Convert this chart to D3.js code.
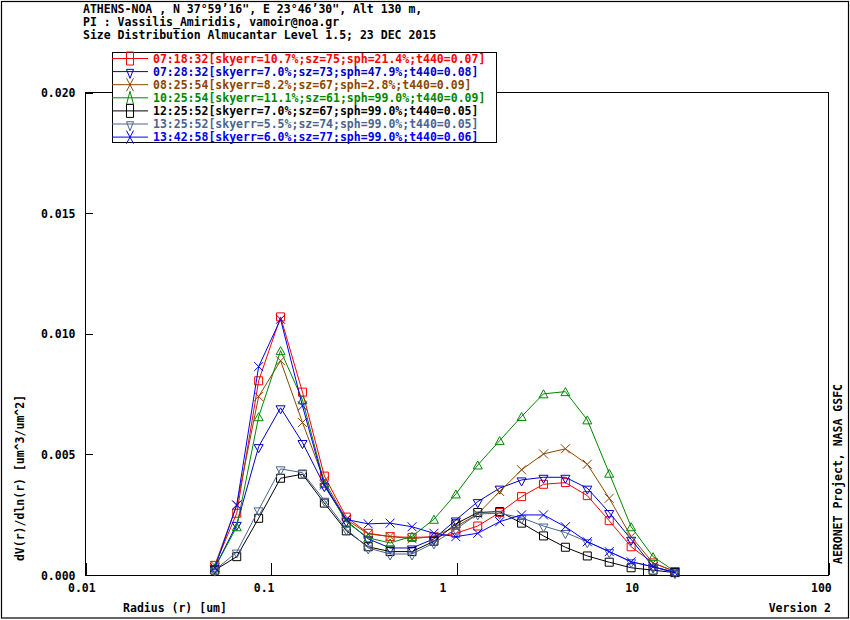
<!DOCTYPE html>
<html>
<head>
<meta charset="utf-8">
<script src="https://cdn.jsdelivr.net/npm/d3@7"></script>
<style>
  html, body { margin: 0; padding: 0; background: #fff; }
  svg { display: block; }
  text { font-family: "DejaVu Sans Mono", monospace; font-weight: bold; font-size: 11.5px; }
</style>
</head>
<body>
<svg id="chart" width="850" height="620"></svg>
<script>
// ---------------- data ----------------
const titleLines = [
  "ATHENS-NOA , N 37°59’16\", E 23°46’30\", Alt 130 m,",
  "PI : Vassilis_Amiridis, vamoir@noa.gr",
  "Size Distribution Almucantar Level 1.5; 23 DEC 2015"
];
const radius = [0.050000, 0.065604, 0.086077, 0.112939, 0.148184, 0.194429, 0.255105, 0.334716,
  0.439173, 0.576227, 0.756052, 0.991996, 1.301571, 1.707757, 2.240702, 2.939966,
  3.857452, 5.061260, 6.640745, 8.713145, 11.432287, 15.000000];
const xTicks = [0.01, 0.1, 1, 10, 100];
const xTickLabels = ["0.01", "0.1", "1", "10", "100"];
const yTicks = [0, 0.005, 0.010, 0.015, 0.020];
const yTickLabels = ["0.000", "0.005", "0.010", "0.015", "0.020"];

const seriesNames = [
  "07:18:32[skyerr=10.7%;sz=75;sph=21.4%;t440=0.07]",
  "07:28:32[skyerr=7.0%;sz=73;sph=47.9%;t440=0.08]",
  "08:25:54[skyerr=8.2%;sz=67;sph=2.8%;t440=0.09]",
  "10:25:54[skyerr=11.1%;sz=61;sph=99.0%;t440=0.09]",
  "12:25:52[skyerr=7.0%;sz=67;sph=99.0%;t440=0.05]",
  "13:25:52[skyerr=5.5%;sz=74;sph=99.0%;t440=0.05]",
  "13:42:58[skyerr=6.0%;sz=77;sph=99.0%;t440=0.06]"
];
const s0718 = [0.0004, 0.00256, 0.00805, 0.0107, 0.00758, 0.0041, 0.0024, 0.00173, 0.00159, 0.00156, 0.00158,
  0.00173, 0.00203, 0.00259, 0.00325, 0.00376, 0.00383, 0.00329, 0.00225, 0.00117, 0.0005, 0.00014];
const s0728 = [0.0003, 0.0021, 0.00532, 0.00693, 0.00549, 0.0037, 0.00225, 0.0015, 0.00112, 0.00112, 0.0015,
  0.00228, 0.00304, 0.0036, 0.00394, 0.00405, 0.00405, 0.0036, 0.00259, 0.00148, 0.00034, 0.00012];
const s0825 = [0.0004, 0.0029, 0.0074, 0.00888, 0.00632, 0.0039, 0.0023, 0.0017, 0.0016, 0.0015, 0.0016,
  0.002, 0.00253, 0.00346, 0.00436, 0.00502, 0.00523, 0.00459, 0.00318, 0.00159, 0.0005, 0.00015];
const s1025 = [0.0003, 0.002, 0.00656, 0.0093, 0.00726, 0.0038, 0.0022, 0.00154, 0.00133, 0.0016, 0.00231,
  0.00336, 0.00456, 0.00557, 0.00657, 0.00751, 0.0076, 0.00643, 0.00422, 0.002, 0.00076, 0.00015];
const s1225 = [0.0002, 0.00076, 0.00235, 0.00401, 0.00418, 0.00298, 0.00183, 0.00117, 0.00097, 0.00097, 0.0014,
  0.00212, 0.00259, 0.00263, 0.00215, 0.00162, 0.00115, 0.00079, 0.00053, 0.0003, 0.0002, 0.0001];
const s1325 = [0.0002, 0.00095, 0.0027, 0.0044, 0.00424, 0.0031, 0.0019, 0.00112, 0.00087, 0.00087, 0.00133,
  0.0019, 0.00253, 0.00256, 0.00237, 0.00203, 0.00176, 0.00138, 0.00097, 0.00055, 0.00034, 0.0001];
const s1342 = [0.0003, 0.0029, 0.00864, 0.0106, 0.00701, 0.00373, 0.0023, 0.00212, 0.00215, 0.002, 0.00173,
  0.00159, 0.00173, 0.00221, 0.00249, 0.00249, 0.002, 0.00138, 0.00097, 0.00055, 0.00034, 0.0001];
const seriesValues = [s0718, s0728, s0825, s1025, s1225, s1325, s1342];
const seriesColors = ["#ff0000", "#0000c8", "#8c4600", "#008800", "#000000", "#4a6491", "#0000ff"];
const seriesMarkers = ["square", "triDown", "cross", "triUp", "square", "triDown", "cross"];

// ---------------- layout ----------------
const svg = d3.select("#chart");
const L = 85, R = 828, T = 92.5, B = 575;
const x = d3.scaleLog().domain([0.01, 100]).range([L, R]);
const y = d3.scaleLinear().domain([0, 0.02]).range([B, T]);

function markerPath(type, w, h) {
  const a = w / 2, b = h / 2;
  switch (type) {
    case "square": return `M${-a},${-b}H${a}V${b}H${-a}Z`;
    case "triUp": return `M0,${-b}L${a},${b}L${-a},${b}Z`;
    case "triDown": return `M${-a},${-b * 0.5}L${a},${-b * 0.5}L0,${b * 1.5}Z`;
    case "cross": return `M${-a},${-b}L${a},${b}M${a},${-b}L${-a},${b}`;
  }
}

// outer border
svg.append("rect").attr("x", 1.5).attr("y", 1.5).attr("width", 847).attr("height", 616.5)
  .attr("fill", "none").attr("stroke", "#000").attr("stroke-width", 1.2);

// title
svg.append("g").selectAll("text").data(titleLines).join("text")
  .attr("x", 83).attr("y", (d, i) => 13 + i * 13.2).text(d => d);

// plot frame
svg.append("rect").attr("x", L + 0.5).attr("y", T).attr("width", R - L).attr("height", B - T)
  .attr("fill", "none").attr("stroke", "#000").attr("stroke-width", 1).attr("shape-rendering", "crispEdges");

// x axis
const gx = svg.append("g").attr("transform", `translate(0.5,${B})`)
  .call(d3.axisBottom(x).tickValues(xTicks).tickSize(-12).tickPadding(0)
    .tickFormat((d, i) => xTickLabels[i]));
gx.select(".domain").remove();
gx.selectAll(".tick line").attr("stroke", "#000").attr("shape-rendering", "crispEdges");
gx.selectAll(".tick text").attr("text-anchor", "start").attr("x", -18).attr("y", 17).attr("dy", 0)
  .attr("fill", "#000").style("font-family", "DejaVu Sans Mono").style("font-weight", "bold").style("font-size", "11.5px");

// y axis
const gy = svg.append("g").attr("transform", `translate(${L + 0.5},0)`)
  .call(d3.axisLeft(y).tickValues(yTicks).tickSize(-7).tickPadding(0)
    .tickFormat((d, i) => yTickLabels[i]));
gy.select(".domain").remove();
gy.selectAll(".tick line").attr("stroke", "#000").attr("shape-rendering", "crispEdges");
gy.selectAll(".tick text").attr("text-anchor", "end").attr("x", -10).attr("dy", "0.35em")
  .attr("fill", "#000").style("font-family", "DejaVu Sans Mono").style("font-weight", "bold").style("font-size", "11.5px");

// axis titles
svg.append("text").attr("x", 175).attr("y", 612).attr("text-anchor", "middle").text("Radius (r) [um]");
svg.append("text").attr("x", 831).attr("y", 612).attr("text-anchor", "end").text("Version 2");
svg.append("text").attr("transform", "translate(24,478) rotate(-90)").attr("text-anchor", "middle")
  .text("dV(r)/dln(r) [um^3/um^2]");
svg.append("text").attr("transform", "translate(842,474) rotate(-90)").attr("text-anchor", "middle")
  .text("AERONET Project, NASA GSFC");

// series
const line = d3.line().x(d => x(d[0])).y(d => y(d[1]));
seriesValues.forEach((vals, si) => {
  const pts = radius.map((r, i) => [r, vals[i]]);
  const g = svg.append("g");
  g.append("path").datum(pts).attr("d", line).attr("fill", "none")
    .attr("stroke", seriesColors[si]).attr("stroke-width", 1);
  const mtype = seriesMarkers[si];
  const w = mtype === "square" ? 8 : 9, h = mtype === "square" ? 8 : (mtype === "cross" ? 9 : 8);
  g.selectAll("path.m").data(pts).join("path").attr("class", "m")
    .attr("transform", d => `translate(${x(d[0])},${y(d[1])})`)
    .attr("d", markerPath(mtype, w, h))
    .attr("fill", "none").attr("stroke", seriesColors[si]).attr("stroke-width", 1);
});

// legend
const lg = svg.append("g");
lg.append("rect").attr("x", 112.5).attr("y", 52.5).attr("width", 384).attr("height", 90)
  .attr("fill", "#fff").attr("stroke", "#000").attr("stroke-width", 1).attr("shape-rendering", "crispEdges");
seriesNames.forEach((name, i) => {
  const ry = 58.5 + i * 13.1;
  lg.append("line").attr("x1", 112).attr("x2", 148).attr("y1", ry).attr("y2", ry)
    .attr("stroke", seriesColors[i]).attr("stroke-width", 1);
  lg.append("path").attr("transform", `translate(130,${ry})`)
    .attr("d", markerPath(seriesMarkers[i], 7, seriesMarkers[i] === "triDown" ? 9 : 13))
    .attr("fill", "none").attr("stroke", seriesColors[i]).attr("stroke-width", 1);
  lg.append("text").attr("x", 153).attr("y", ry).attr("dy", "0.36em")
    .attr("fill", seriesColors[i]).text(name);
});
</script>
</body>
</html>
